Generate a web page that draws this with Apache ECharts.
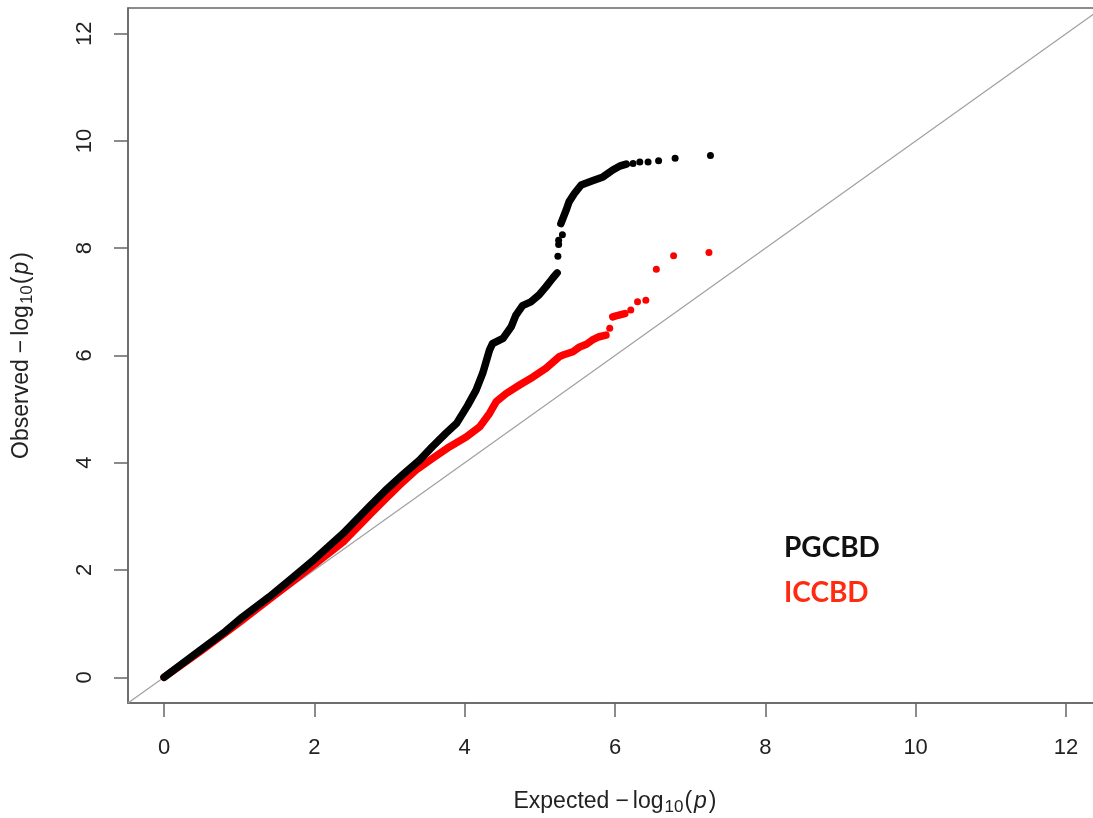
<!DOCTYPE html>
<html><head><meta charset="utf-8">
<script src="https://cdn.jsdelivr.net/npm/echarts@6/dist/echarts.min.js"></script>
<style>html,body{margin:0;padding:0;background:#fff}#c{width:1093px;height:818px}</style>
</head><body><div id="c"></div>
<script>
// tick labels and axis range
const tickValues = [0, 2, 4, 6, 8, 10, 12];
const axisMin = -0.48, axisMax = 12.48;
// reference line y = x
const diagonal = [[-0.48, -0.48], [12.48, 12.48]];

// PGCBD (black): dense chain of points, then separate points
const pgcbdDense1 = [[0,0],[0.4,0.42],[0.82,0.86],[1.04,1.12],[1.4,1.5],[1.71,1.86],[2.0,2.2],[2.38,2.68],[2.73,3.18],[2.95,3.49],[3.17,3.77],[3.40,4.05],[3.57,4.30],[3.75,4.55],[3.89,4.73],[4.04,5.07],[4.15,5.35],[4.24,5.67],[4.33,6.10],[4.37,6.22],[4.51,6.32],[4.62,6.54],[4.68,6.75],[4.77,6.93],[4.88,7.00],[4.99,7.13],[5.08,7.28],[5.17,7.44],[5.23,7.54]];
const pgcbdSparse = [[5.24,7.85],[5.25,8.07],[5.25,8.15],[5.30,8.25],[6.24,9.58],[6.33,9.61],[6.44,9.61],[6.58,9.63],[6.80,9.68],[7.27,9.73]];
const pgcbdDense2 = [[5.28,8.46],[5.35,8.71],[5.39,8.87],[5.46,9.02],[5.55,9.18],[5.70,9.26],[5.84,9.33],[5.97,9.46],[6.06,9.53],[6.15,9.57]];

// ICCBD (red)
const iccbdDense1 = [[0,0],[0.5,0.5],[1.0,1.02],[1.5,1.56],[2.0,2.1],[2.38,2.52],[2.77,3.08],[2.95,3.33],[3.13,3.58],[3.35,3.86],[3.57,4.08],[3.80,4.30],[4.02,4.48],[4.20,4.67],[4.33,4.92],[4.42,5.14],[4.55,5.29],[4.73,5.45],[4.91,5.60],[5.08,5.76],[5.26,5.98],[5.31,6.01],[5.44,6.07],[5.53,6.16],[5.62,6.21],[5.70,6.29],[5.79,6.35],[5.88,6.38]];
const iccbdDense2 = [[5.97,6.72],[6.04,6.75],[6.13,6.78]];
const iccbdSparse = [[5.93,6.51],[6.21,6.85],[6.30,7.00],[6.41,7.03],[6.55,7.61],[6.78,7.86],[7.25,7.92]];

const legendNames = ['PGCBD', 'ICCBD'];
const BLACK = '#000000', RED = '#ff0000';

const chart = echarts.init(document.getElementById('c'), null, {renderer: 'canvas'});
const FONT = 'Liberation Sans, Arial, sans-serif';
const labelFont = {fontFamily: FONT, fontSize: 22, color: '#222'};
const nameRich = {
  a: {fontFamily: FONT, fontSize: 23, color: '#222'},
  m: {fontFamily: FONT, fontSize: 23, color: '#222', padding: [0, 4, 0, 6]},
  s: {fontFamily: FONT, fontSize: 17, color: '#222', verticalAlign: 'bottom', padding: [11, 1, 0, 1]},
  i: {fontFamily: FONT, fontSize: 23, fontStyle: 'italic', color: '#222', padding: [0, 2, 0, 2]}
};
function axisCommon(title) {
  return {
    type: 'value', min: axisMin, max: axisMax,
    name: title, nameLocation: 'middle',
    nameTextStyle: {rich: nameRich},
    axisLine: {show: true, onZero: false, lineStyle: {color: '#666', width: 1.5}},
    axisTick: {show: true, inside: false, length: 14, customValues: tickValues, lineStyle: {color: '#666', width: 1.5}},
    axisLabel: Object.assign({customValues: tickValues, formatter: v => String(v)}, labelFont),
    splitLine: {show: false}
  };
}
const xAxis = axisCommon('{a|Expected}{m|−}{a|log}{s|10}{a|(}{i|p}{a|)}');
xAxis.nameGap = 85;
xAxis.axisLabel.margin = 34;
const yAxis = axisCommon('{a|Observed}{m|−}{a|log}{s|10}{a|(}{i|p}{a|)}');
yAxis.nameGap = 92;
yAxis.axisLabel.margin = 32;
yAxis.axisLabel.rotate = 90;

function denseLine(data, color, z) {
  return {type: 'line', data: data, showSymbol: false, symbol: 'none', silent: true, z: z,
    lineStyle: {color: color, width: 7.5, cap: 'round', join: 'round'}, animation: false};
}
function dots(data, color, z) {
  return {type: 'scatter', data: data, symbol: 'circle', symbolSize: 7, silent: true, z: z,
    itemStyle: {color: color, opacity: 1}, animation: false};
}

chart.setOption({
  animation: false,
  grid: {left: 128, top: 8, right: -9, bottom: 115, show: true, borderColor: '#666', borderWidth: 1.5, containLabel: false, outerBoundsMode: 'none'},
  xAxis: xAxis,
  yAxis: yAxis,
  series: [
    {type: 'line', data: diagonal, showSymbol: false, symbol: 'none', silent: true, z: 1,
      lineStyle: {color: '#a0a0a0', width: 1.2}},
    denseLine(iccbdDense1, RED, 2),
    denseLine(iccbdDense2, RED, 2),
    dots(iccbdSparse, RED, 2),
    denseLine(pgcbdDense1, BLACK, 3),
    denseLine(pgcbdDense2, BLACK, 3),
    dots(pgcbdSparse, BLACK, 3)
  ],
  graphic: [
    {type: 'text', left: 784, top: 534, silent: true,
      style: {text: legendNames[0], fill: '#111', font: 'bold 28px Lato, "Open Sans", sans-serif'}},
    {type: 'text', left: 784, top: 579, silent: true,
      style: {text: legendNames[1], fill: '#ff2a10', font: 'bold 28px Lato, "Open Sans", sans-serif'}}
  ]
});
</script>
</body></html>
